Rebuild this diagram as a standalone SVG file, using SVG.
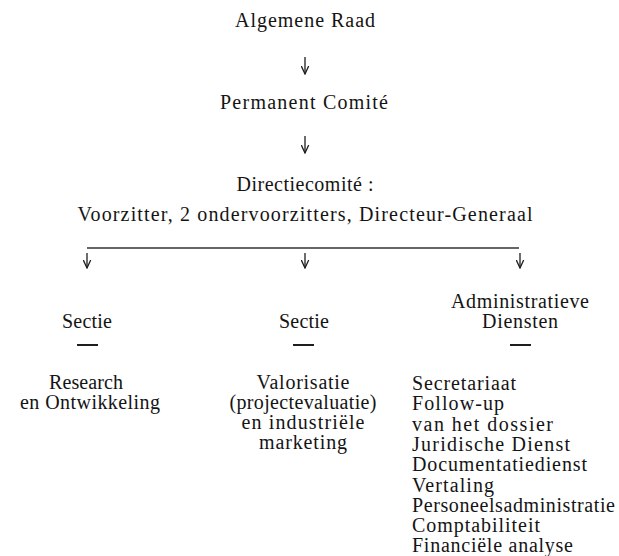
<svg xmlns="http://www.w3.org/2000/svg" width="619" height="556" viewBox="0 0 619 556">
<style>
text{font-family:"Liberation Serif","Times New Roman",serif;font-size:20px;fill:#141414}
.c{text-anchor:middle}
.l{text-anchor:start}
.conn{stroke:#1e1e1e;stroke-width:1.3;fill:none}
.hl{stroke:#333;stroke-width:1.3;fill:none}
.dash{stroke:#1e1e1e;stroke-width:2}
</style>
<defs>
<marker id="ah" viewBox="0 0 9 9" refX="8.5" refY="4.5" markerWidth="9" markerHeight="9" markerUnits="userSpaceOnUse" orient="auto">
<path d="M0.5,0.8 L8.5,4.5 L0.5,8.2" fill="none" stroke="#1e1e1e" stroke-width="1.3"/>
</marker>
</defs>
<rect width="619" height="556" fill="#fff"/>

<g id="n-algemene-raad">
<text class="c" x="305" y="27" textLength="140" lengthAdjust="spacing">Algemene Raad</text>
</g>
<g id="n-permanent-comite">
<text class="c" x="304" y="109" textLength="168" lengthAdjust="spacing">Permanent Comité</text>
</g>
<g id="n-directiecomite">
<text class="c" x="305" y="191" textLength="137" lengthAdjust="spacing">Directiecomité :</text>
<text class="c" x="305" y="221" textLength="455" lengthAdjust="spacing">Voorzitter, 2 ondervoorzitters, Directeur-Generaal</text>
</g>
<g id="n-sectie-rd">
<text class="c" x="87" y="328" textLength="50" lengthAdjust="spacing">Sectie</text>
<line class="dash" x1="77" y1="345" x2="98" y2="345"/>
<text class="c" x="86" y="389" textLength="74" lengthAdjust="spacing">Research</text>
<text class="c" x="90" y="409" textLength="140" lengthAdjust="spacing">en Ontwikkeling</text>
</g>
<g id="n-sectie-valorisatie">
<text class="c" x="304" y="328" textLength="50" lengthAdjust="spacing">Sectie</text>
<line class="dash" x1="293" y1="345" x2="314" y2="345"/>
<text class="c" x="303" y="389" textLength="93" lengthAdjust="spacing">Valorisatie</text>
<text class="c" x="303" y="409" textLength="147" lengthAdjust="spacing">(projectevaluatie)</text>
<text class="c" x="303" y="429" textLength="123" lengthAdjust="spacing">en industriële</text>
<text class="c" x="303" y="449" textLength="88" lengthAdjust="spacing">marketing</text>
</g>
<g id="n-administratieve-diensten">
<text class="c" x="520" y="308" textLength="138" lengthAdjust="spacing">Administratieve</text>
<text class="c" x="520" y="328" textLength="76" lengthAdjust="spacing">Diensten</text>
<line class="dash" x1="510" y1="345" x2="531" y2="345"/>
<text class="l" x="412" y="390" textLength="104" lengthAdjust="spacing">Secretariaat</text>
<text class="l" x="412" y="410" textLength="92" lengthAdjust="spacing">Follow-up</text>
<text class="l" x="412" y="430.5" textLength="141" lengthAdjust="spacing">van het dossier</text>
<text class="l" x="412" y="451" textLength="158" lengthAdjust="spacing">Juridische Dienst</text>
<text class="l" x="412" y="471" textLength="175" lengthAdjust="spacing">Documentatiedienst</text>
<text class="l" x="412" y="491.5" textLength="82" lengthAdjust="spacing">Vertaling</text>
<text class="l" x="412" y="512" textLength="203" lengthAdjust="spacing">Personeelsadministratie</text>
<text class="l" x="412" y="532" textLength="128" lengthAdjust="spacing">Comptabiliteit</text>
<text class="l" x="412" y="552" textLength="161" lengthAdjust="spacing">Financiële analyse</text>
</g>

<g id="connectors">
<line class="conn" x1="305" y1="57" x2="305" y2="74" marker-end="url(#ah)"/>
<line class="conn" x1="305" y1="136" x2="305" y2="153" marker-end="url(#ah)"/>
<line class="hl" x1="87" y1="248" x2="519" y2="248"/>
<line class="conn" x1="87" y1="253" x2="87" y2="268" marker-end="url(#ah)"/>
<line class="conn" x1="305" y1="253" x2="305" y2="268" marker-end="url(#ah)"/>
<line class="conn" x1="520" y1="253" x2="520" y2="268" marker-end="url(#ah)"/>
</g>
</svg>
